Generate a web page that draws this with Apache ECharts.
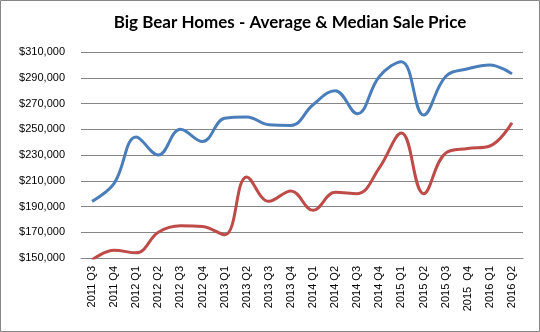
<!DOCTYPE html>
<html>
<head>
<meta charset="utf-8">
<script src="https://cdn.jsdelivr.net/npm/echarts@6/dist/echarts.min.js"></script>
<style>
html, body { margin: 0; padding: 0; background: #fff; }
#chart { width: 540px; height: 332px; }
</style>
</head>
<body>
<div id="chart"></div>
<script>
// quarters on the x axis
var quarters = ['2011 Q3', '2011 Q4', '2012 Q1', '2012 Q2', '2012 Q3', '2012 Q4',
	'2013 Q1', '2013 Q2', '2013 Q3', '2013 Q4', '2014 Q1', '2014 Q2', '2014 Q3', '2014 Q4',
	'2015 Q1', '2015 Q2', '2015 Q3', '2015  Q4', '2016 Q1', '2016 Q2'];
// average sale price (blue)
var averagePrice = [194000, 208000, 244000, 230000, 250000, 240500, 258500, 259500, 253500, 253000,
	269000, 280000, 262000, 291000, 302500, 261000, 291000, 297000, 300000, 293000];
// median sale price (red)
var medianPrice = [148500, 156000, 154000, 170000, 175000, 174500, 168000, 213000, 194000, 202000,
	187000, 201000, 200000, 220000, 247000, 200000, 231500, 235000, 237000, 255000];
var yMin = 150000, yMax = 310000, yStep = 20000;

var myChart = echarts.init(document.getElementById('chart'));
var option = {
	animation: false,
	title: {
		text: 'Big Bear Homes - Average & Median Sale Price',
		left: 285,
		textAlign: 'center',
		top: 9,
		textStyle: {
			fontFamily: 'Lato',
			fontWeight: 'bold',
			fontSize: 17,
			color: '#000'
		}
	},
	graphic: [{
		type: 'rect',
		shape: { x: 0.5, y: 0.5, width: 539, height: 331 },
		style: { fill: 'none', stroke: '#868686', lineWidth: 1 },
		silent: true
	}],
	grid: {
		left: 81,
		right: 17,
		top: 52,
		bottom: 74
	},
	xAxis: {
		type: 'category',
		data: quarters,
		boundaryGap: true,
		axisLine: { lineStyle: { color: '#868686' } },
		axisTick: { show: false },
		axisLabel: {
			rotate: 90,
			interval: 0,
			margin: 8,
			fontFamily: 'Liberation Sans',
			fontSize: 11,
			color: '#000'
		}
	},
	yAxis: {
		type: 'value',
		min: yMin,
		max: yMax,
		interval: yStep,
		axisLine: { show: false },
		axisTick: { show: false },
		axisLabel: {
			margin: 16,
			fontFamily: 'Liberation Sans',
			fontSize: 11,
			color: '#000',
			formatter: function(v) {
				return '$' + v.toLocaleString('en-US');
			}
		},
		splitLine: { lineStyle: { color: '#868686', width: 1 } }
	},
	series: [{
			name: 'Average',
			type: 'line',
			data: averagePrice,
			smooth: 0.4,
			symbol: 'none',
			lineStyle: { color: '#4a7ebb', width: 3 }
		},
		{
			name: 'Median',
			type: 'line',
			data: medianPrice,
			smooth: 0.4,
			symbol: 'none',
			clip: true,
			lineStyle: { color: '#be4b48', width: 3 }
		}
	]
};
myChart.setOption(option);
</script>
</body>
</html>
